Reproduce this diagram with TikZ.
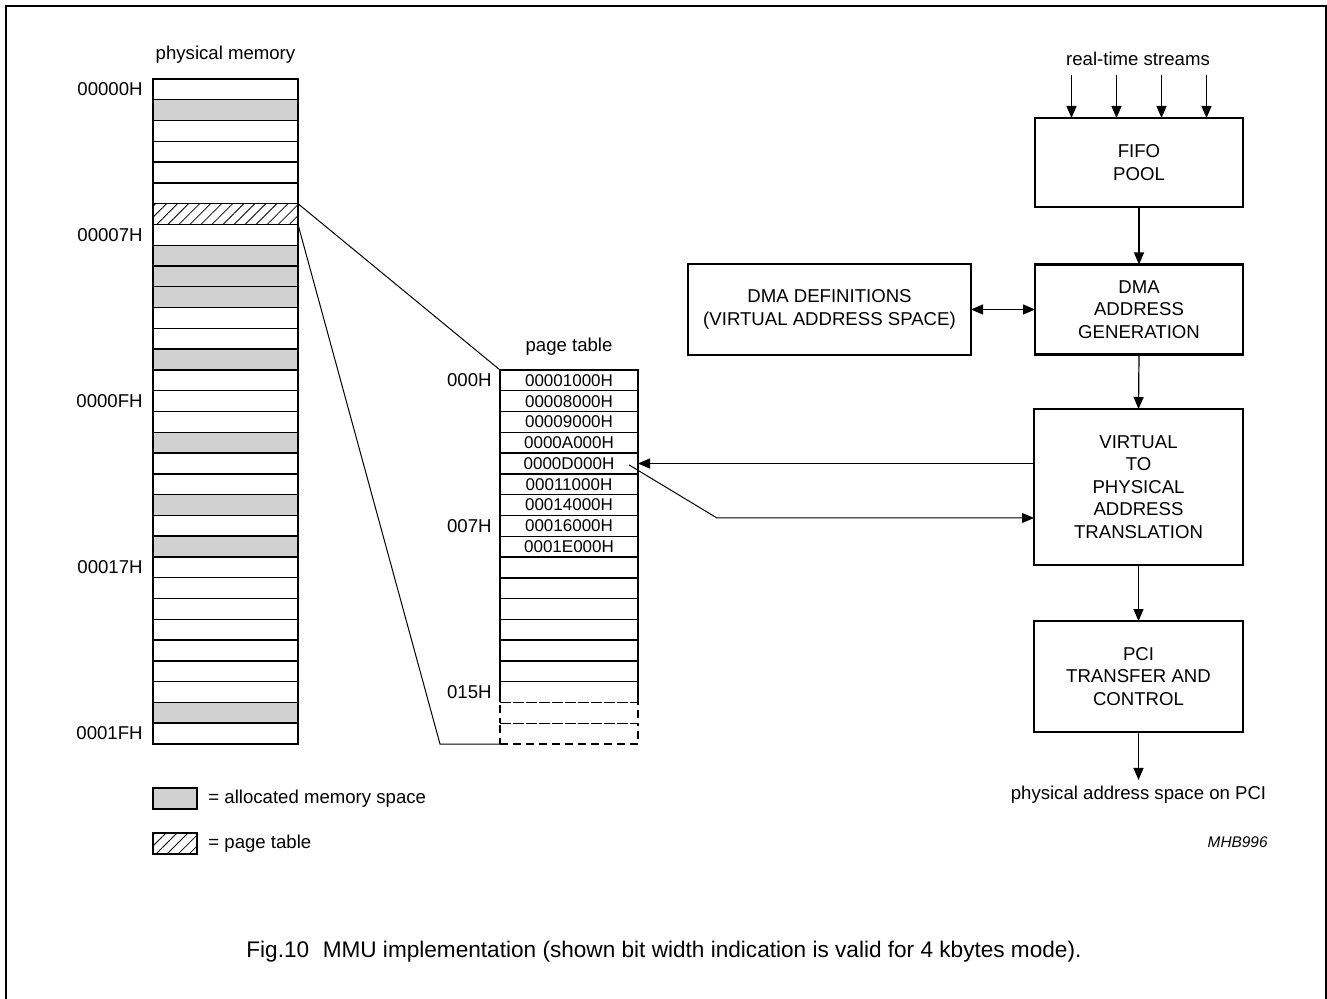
\documentclass[tikz,border=0pt]{standalone}
\usepackage{fontspec}
\setmainfont{Liberation Sans}
\usetikzlibrary{arrows.meta,patterns.meta,positioning}

\definecolor{memgray}{gray}{0.82}

\tikzset{
  memrow/.style={draw,line width=0.7pt,minimum width=72.5pt,minimum height=10.39pt,inner sep=0pt,outer sep=0pt},
  allocrow/.style={memrow,fill=memgray},
  hatchrow/.style={memrow,pattern={Lines[angle=45,distance=3.9pt,line width=0.4pt]}},
  ptrow/.style={draw,line width=0.7pt,minimum width=69pt,minimum height=10.39pt,inner sep=0pt,outer sep=0pt,font=\fontsize{8.5}{9}\selectfont},
  block/.style={draw,line width=1.4pt,align=center,inner sep=0pt,outer sep=0pt,font=\fontsize{9.3}{11.2}\selectfont},
  lbl/.style={font=\fontsize{9.3}{11}\selectfont,inner sep=0pt},
  thinline/.style={line width=0.5pt},
  flow/.style={line width=0.6pt,-{Triangle[length=6pt,width=5pt]}},
  dflow/.style={line width=0.6pt,{Triangle[length=6pt,width=5pt]}-{Triangle[length=6pt,width=5pt]}}
}

\begin{document}
\begin{tikzpicture}[x=0.5pt,y=-0.5pt]
\useasboundingbox (0,0) rectangle (1327,999);
\draw[line width=1pt] (6,1010) -- (6,6) -- (1326,6) -- (1326,1010);

% physical memory
\node[lbl] (pmtitle) at (225.5,55) {physical memory};
\foreach \i in {0,2,3,4,5,7,11,12,14,15,16,18,19,21,23,24,25,26,27,28,29,31}
  \node[memrow] (pm\i) at (225.5,{89.39+20.78*\i}) {};
\foreach \i in {1,8,9,10,13,17,20,22,30}
  \node[allocrow] (pm\i) at (225.5,{89.39+20.78*\i}) {};
\node[hatchrow] (pm6) at (225.5,{89.39+20.78*6}) {};
\foreach \i/\t in {0/00000H,7/00007H,15/0000FH,23/00017H,31/0001FH}
  \node[lbl,left=5pt of pm\i] (pmlbl\i) {\t};

% page table
\node[lbl] (pttitle) at (569,347) {page table};
\foreach \i/\t in {0/00001000H,1/00008000H,2/00009000H,3/0000A000H,4/0000D000H,5/00011000H,6/00014000H,7/00016000H,8/0001E000H}
  \node[ptrow] (pt\i) at (569,{380.39+20.78*\i}) {\t};
\foreach \i in {9,...,14}
  \node[ptrow] (pt\i) at (569,{380.39+20.78*\i}) {};
\node[ptrow,draw=none] (pt15) at (569,{380.39+20.78*15}) {};
\draw[line width=0.7pt] (pt15.south west) -- (pt15.north west) -- (pt15.north east) -- (pt15.south east);
\draw[line width=0.7pt,dash pattern=on 4pt off 2.5pt] (pt15.south west) -- (pt15.south east);
\foreach \i in {16,17}
  \node[ptrow,dash pattern=on 4pt off 2.5pt] (pt\i) at (569,{380.39+20.78*\i}) {};
\foreach \i/\t in {0/000H,7/007H,15/015H}
  \node[lbl,left=4pt of pt\i] (ptlbl\i) {\t};

% page table located in physical memory
\coordinate (ptcorner) at ([xshift=-30pt]pt17.south west);
\draw[thinline] (pm6.north east) -- (pt0.north west);
\draw[thinline] (pm6.south east) -- (ptcorner) -- (pt17.south west);

% data path
\node[lbl] (streams) at (1138,59) {real-time streams};
\node[block,minimum width=104pt,minimum height=44.5pt] (fifo) at (1139,162.5) {FIFO\\POOL};
\node[block,minimum width=104pt,minimum height=45pt] (dmagen) at (1139,309.5) {DMA\\ADDRESS\\GENERATION};
\node[block,minimum width=141.5pt,minimum height=45.5pt] (dmadef) at (829.5,309.5) {DMA DEFINITIONS\\(VIRTUAL ADDRESS SPACE)};
\node[block,minimum width=104.5pt,minimum height=78pt] (v2p) at (1138.5,487) {VIRTUAL\\TO\\PHYSICAL\\ADDRESS\\TRANSLATION};
\node[block,minimum width=104.5pt,minimum height=55.5pt] (pci) at (1138.5,676.5) {PCI\\TRANSFER AND\\CONTROL};
\node[lbl] (pciout) at (1138.5,795) {physical address space on PCI};

\foreach \dx in {-67.5,-22.5,22.5,67.5}
  \draw[flow] ([xshift=\dx*0.5pt,yshift=21.5pt]fifo.north) -- ([xshift=\dx*0.5pt]fifo.north);
\draw[flow] (fifo.south) -- (dmagen.north);
\draw[dflow] (dmadef.east) -- (dmagen.west);
\draw[flow] (dmagen.south) -- (v2p.north);
\draw[flow] (v2p.south) -- (pci.north);
\draw[flow] (pci.south) -- ([yshift=3pt]pciout.north);

\coordinate (bend) at (717,518);
\draw[flow] (v2p.west |- pt4.east) -- (pt4.east);
\draw[thinline,-{Triangle[length=6pt,width=5pt]}] ([xshift=-4.5pt,yshift=-0.7pt]pt4.east) -- (bend) -- (bend -| v2p.west);

% legend
\node[allocrow,minimum width=22pt,minimum height=10.5pt] (keyalloc) at (175,798.5) {};
\node[lbl,right=5.5pt of keyalloc] (keyalloctxt) {= allocated memory space};
\node[hatchrow,minimum width=22pt,minimum height=10.5pt] (keyhatch) at (175,843.5) {};
\node[lbl,right=5.5pt of keyhatch] (keyhatchtxt) {= page table};

\node[font=\itshape\fontsize{7.7}{9}\selectfont,inner sep=0pt,anchor=east] (code) at (1268,842) {MHB996};
\node[font=\fontsize{11.3}{13}\selectfont,inner sep=0pt,anchor=west] (caption) at (246,952) {Fig.10\hspace{0.6em}MMU implementation (shown bit width indication is valid for 4 kbytes mode).};
\end{tikzpicture}
\end{document}
